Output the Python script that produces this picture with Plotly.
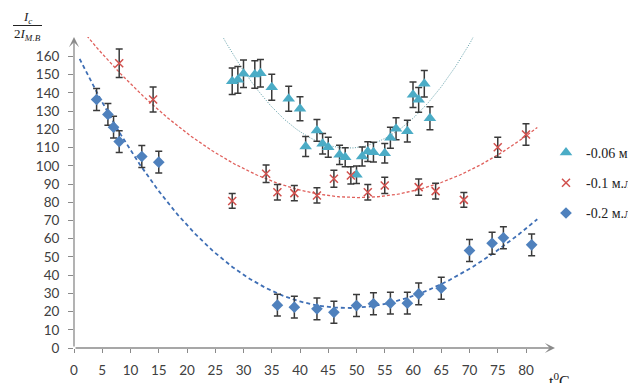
import numpy as np
import plotly.graph_objects as go

# Temperature, °C, and normalised current Ic / 2I(M.B) for three concentrations
t_006 = [28, 29, 30, 32, 33, 35, 38, 40, 41, 43, 44, 45, 47, 48, 50, 51, 52, 53,
         55, 56, 57, 59, 60, 61, 62, 63]
i_006 = [146.4, 147.2, 150.5, 150.1, 150.8, 143.1, 136.8, 131.3, 110.6, 119.4,
         112.1, 110.2, 106.0, 104.7, 95.1, 105.1, 107.8, 107.5, 106.9, 115.4,
         120.3, 119.0, 139.0, 136.2, 145.0, 126.1]

t_01 = [8, 14, 28, 34, 36, 39, 43, 46, 49, 52, 55, 61, 64, 69, 75, 80]
i_01 = [156.3, 136.4, 80.7, 95.6, 85.5, 85.0, 83.7, 92.9, 94.7, 85.5, 89.2,
        88.3, 86.1, 81.3, 110.2, 117.2]

t_02 = [4, 6, 7, 8, 12, 15, 36, 39, 43, 46, 50, 53, 56, 59, 61, 65, 70, 74, 76, 81]
i_02 = [136.4, 128.2, 121.2, 113.3, 105.1, 102.0, 23.5, 22.4, 21.5, 19.6, 23.3,
        24.3, 24.6, 24.6, 29.7, 32.8, 53.5, 57.5, 60.5, 56.6]

# error bars: percent of value for the first two series, fixed for the third
err_pct_006 = 5
err_pct_01 = 5
err_abs_02 = 6

# polynomial trend lines (order, t-span)
trend_006 = (2, 20, 75)
trend_01 = (2, 0, 82)
trend_02 = (3, 1, 82)

names = ["-0.06 м.л.", "-0.1 м.л.", "-0.2 м.л."]
x_ticks = list(range(0, 81, 5))
y_ticks = list(range(0, 161, 10))

W, H = 628, 383
ML, MR, MT, MB = 74, 73, 37, 35
PW, PH = W - ML - MR, H - MT - MB
X_MAX = PW / 5.65
Y_MAX = PH / 1.822


def px(x):
    return (x - ML) / PW


def py(y):
    return (H - MB - y) / PH


def trend(t, v, spec):
    order, a, b = spec
    c = np.polyfit(t, v, order)
    tt = np.linspace(a, b, 300)
    return tt, np.polyval(c, tt)


C_CYAN = "#4bacc6"
C_RED = "#d0504d"
C_BLUE = "#4f81bd"
ERR_C = "#3a3a3a"

fig = go.Figure()

# trend lines
for t, v, spec, col, dash, w in [
    (t_006, i_006, trend_006, "#5b9ca6", "1px,1.5px", 1),
    (t_01, i_01, trend_01, "#e0605c", "3px,2px", 1.3),
    (t_02, i_02, trend_02, "#3f6fb5", "4px,3px", 1.8),
]:
    tt, vv = trend(t, v, spec)
    fig.add_trace(go.Scatter(x=tt, y=vv, mode="lines", showlegend=False,
                             hoverinfo="skip",
                             line=dict(color=col, dash=dash, width=w)))

# error bars
for t, v, err in [
    (t_006, i_006, dict(type="percent", value=err_pct_006)),
    (t_01, i_01, dict(type="percent", value=err_pct_01)),
    (t_02, i_02, dict(type="constant", value=err_abs_02)),
]:
    fig.add_trace(go.Scatter(
        x=t, y=v, mode="markers", showlegend=False, hoverinfo="skip",
        marker=dict(size=1, opacity=0),
        error_y=dict(visible=True, color=ERR_C, thickness=1.5, width=3.5, **err)))

# data markers
fig.add_trace(go.Scatter(
    x=t_006, y=i_006, mode="markers", name=names[0], legendgroup="a",
    marker=dict(symbol="triangle-up", size=11, color=C_CYAN)))
fig.add_trace(go.Scatter(
    x=t_01, y=i_01, mode="markers", name=names[1], legendgroup="b",
    marker=dict(symbol="x-thin", size=8, color=C_RED,
                line=dict(color=C_RED, width=1.5))))
fig.add_trace(go.Scatter(
    x=t_02, y=i_02, mode="markers", name=names[2], legendgroup="c",
    marker=dict(symbol="diamond", size=9, color=C_BLUE)))

AX_C = "#8a8a8a"
tick_font = dict(family="Lato", size=13.5, color="#404040")

fig.update_layout(
    width=W, height=H,
    margin=dict(l=ML, r=MR, t=MT, b=MB, autoexpand=False),
    paper_bgcolor="white", plot_bgcolor="white",
    showlegend=True,
    legend=dict(x=px(546), y=py(137), xanchor="left", yanchor="top",
                xref="paper", yref="paper",
                font=dict(family="Liberation Serif", size=14, color="#222"),
                tracegroupgap=9, traceorder="grouped",
                bgcolor="rgba(0,0,0,0)"),
    xaxis=dict(range=[0, X_MAX], tickvals=x_ticks, ticks="outside", ticklen=4,
               tickcolor=AX_C, tickwidth=1, showgrid=False, zeroline=False,
               showline=False, tickfont=tick_font, ticklabelstandoff=6),
    yaxis=dict(range=[0, Y_MAX], tickvals=y_ticks, ticks="outside", ticklen=5,
               tickcolor=AX_C, tickwidth=1, showgrid=False, zeroline=False,
               showline=False, tickfont=tick_font, ticklabelstandoff=6),
)

# axis lines with arrow heads
fig.add_annotation(x=1, y=0, xref="paper", yref="paper", ax=-PW, ay=0,
                   showarrow=True, arrowhead=3, arrowsize=1.3, arrowwidth=1.3,
                   arrowcolor=AX_C, text="")
fig.add_annotation(x=0, y=1, xref="paper", yref="paper", ax=0, ay=PH,
                   showarrow=True, arrowhead=3, arrowsize=1.3, arrowwidth=1.3,
                   arrowcolor=AX_C, text="")

# y-axis caption as a fraction
serif = dict(family="Liberation Serif", size=13, color="#222")
fig.add_annotation(x=px(27.5), y=py(18), xref="paper", yref="paper",
                   xanchor="center", yanchor="middle",
                   text="<i>I</i><sub><i>c</i></sub>", showarrow=False, font=serif)
fig.add_shape(type="line", xref="paper", yref="paper",
              x0=px(13), x1=px(42), y0=py(25.5), y1=py(25.5),
              line=dict(color="#222", width=1))
fig.add_annotation(x=px(27.5), y=py(34), xref="paper", yref="paper",
                   xanchor="center", yanchor="middle",
                   text="2<i>I</i><sub><i>M.B</i></sub>", showarrow=False, font=serif)

# x-axis caption
fig.add_annotation(x=px(547), y=py(368), xref="paper", yref="paper",
                   xanchor="left", yanchor="top",
                   text="t<sup>0</sup>C", showarrow=False,
                   font=dict(family="Liberation Serif", size=16, color="#222"))

fig.write_html("out.html")
